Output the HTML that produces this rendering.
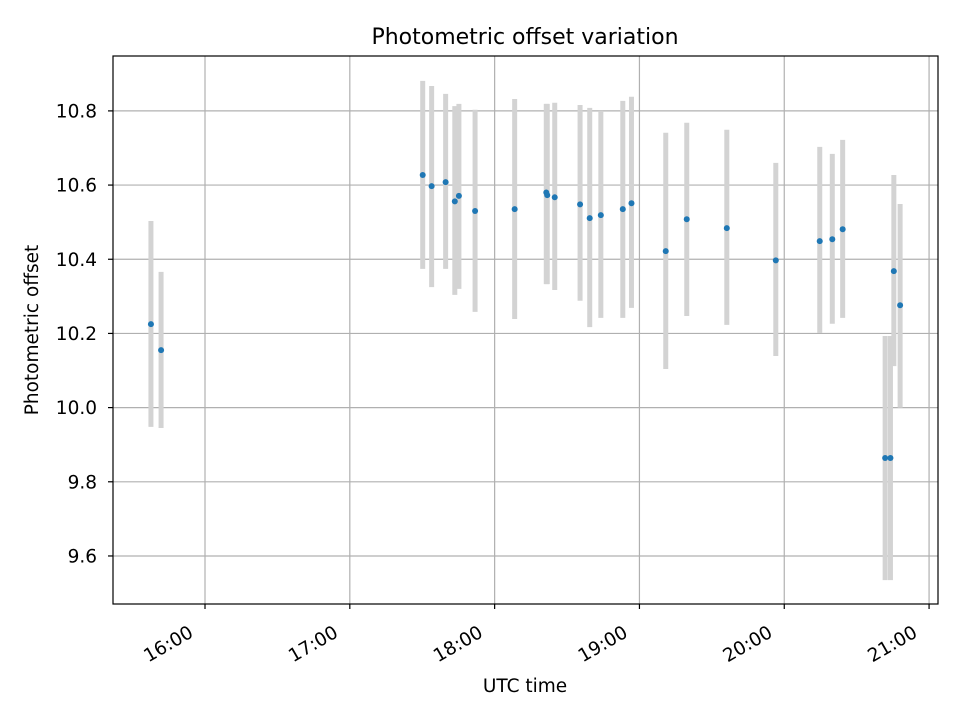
<!DOCTYPE html>
<html><head><meta charset="utf-8"><style>body{margin:0;background:#fff}svg{display:block;font-family:"DejaVu Sans","Liberation Sans",sans-serif}</style></head>
<body>
<svg id="chart" width="960" height="720">
<rect width="960" height="720" fill="#fff"/>
<text x="525" y="44" font-size="22" text-anchor="middle">Photometric offset variation</text>
<text x="525" y="692" font-size="18.5" text-anchor="middle">UTC time</text>
<text transform="translate(38,330) rotate(-90)" font-size="18.5" text-anchor="middle">Photometric offset</text>
<g id="grid"></g><g id="bars"></g><g id="pts"></g><g id="axes"></g>
</svg>
<script>
// minutes after 15:00 UTC
const times=[37.6,41.8,150.2,153.9,159.7,163.5,165.2,171.9,188.3,201.4,201.8,204.9,215.4,219.4,224.0,233.1,236.7,250.9,259.6,276.2,296.5,314.7,319.9,324.2,341.8,344.0,345.4,348.0];
const values=[10.225,10.155,10.627,10.597,10.608,10.556,10.571,10.530,10.535,10.580,10.573,10.567,10.548,10.511,10.519,10.535,10.551,10.422,10.508,10.484,10.397,10.449,10.454,10.481,9.864,9.864,10.368,10.276];
const lowers=[9.948,9.945,10.374,10.325,10.374,10.304,10.320,10.258,10.239,10.333,10.333,10.317,10.288,10.217,10.242,10.242,10.269,10.104,10.247,10.223,10.139,10.201,10.226,10.242,9.535,9.535,10.112,10.0];
const uppers=[10.503,10.366,10.881,10.867,10.846,10.813,10.819,10.803,10.832,10.819,10.819,10.822,10.816,10.808,10.800,10.827,10.838,10.741,10.768,10.749,10.660,10.703,10.684,10.722,10.193,10.193,10.627,10.549];
const xTickVals=[60,120,180,240,300,360];
const xTickLabels=["16:00","17:00","18:00","19:00","20:00","21:00"];
const yTickVals=[9.6,9.8,10.0,10.2,10.4,10.6,10.8];
const yTickLabels=["9.6","9.8","10.0","10.2","10.4","10.6","10.8"];

const L=113,R=938,T=56,B=604,x0=21.88,x1=363.7,y0=9.4705,y1=10.948;
const X=v=>L+(v-x0)/(x1-x0)*(R-L);
const Y=v=>B-(v-y0)/(y1-y0)*(B-T);
const NS="http://www.w3.org/2000/svg";
function mk(p,tag,a){const e=document.createElementNS(NS,tag);for(const k in a)e.setAttribute(k,a[k]);p.appendChild(e);return e;}
const grid=document.getElementById('grid'),bars=document.getElementById('bars'),pts=document.getElementById('pts'),axes=document.getElementById('axes');
xTickVals.forEach((v,i)=>{const x=X(v);
 const g=mk(grid,'line',{x1:x,x2:x,y1:T,y2:B,stroke:'#b0b0b0','stroke-width':1.2});
 
 
 mk(axes,'line',{x1:x,x2:x,y1:B,y2:B+5,stroke:'#000','stroke-width':1.2});
 const ax=x-10.5,ay=B+32;
 const t=mk(axes,'text',{x:ax,y:ay,'font-size':18.5,'text-anchor':'end',transform:`rotate(-30 ${ax} ${ay})`});
 t.textContent=xTickLabels[i];
 
 
});
yTickVals.forEach((v,i)=>{const y=Y(v);
 const g=mk(grid,'line',{x1:L,x2:R,y1:y,y2:y,stroke:'#b0b0b0','stroke-width':1.2});
 
 
 mk(axes,'line',{x1:L-5,x2:L,y1:y,y2:y,stroke:'#000','stroke-width':1.2});
 const t=mk(axes,'text',{x:L-16,y:y+6.5,'font-size':18.5,'text-anchor':'end'});
 t.textContent=yTickLabels[i];
 
 
});
times.forEach((tm,i)=>{const x=X(tm);
 const b=mk(bars,'line',{x1:x,x2:x,y1:Y(uppers[i]),y2:Y(lowers[i]),stroke:'#d3d3d3','stroke-width':5});
 
 
});
times.forEach((tm,i)=>{
 const c=mk(pts,'circle',{cx:X(tm),cy:Y(values[i]),r:3,fill:'#1f77b4'});
 
 
});
const f=mk(axes,'rect',{x:L,y:T,width:R-L,height:B-T,fill:'none',stroke:'#000','stroke-width':1.2});


</script>
</body></html>
